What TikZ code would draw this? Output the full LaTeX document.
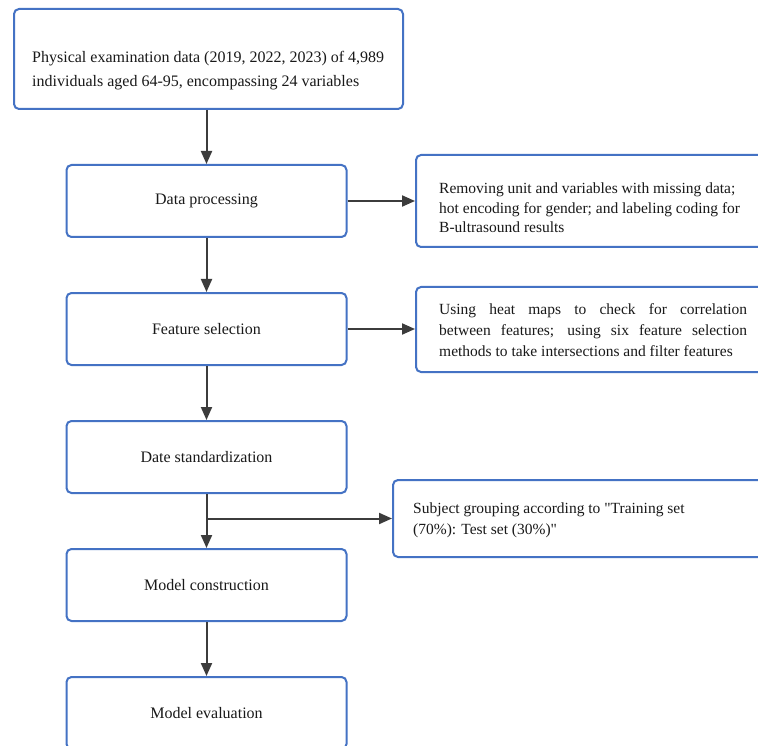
\documentclass[tikz,border=0pt]{standalone}
\usepackage{fontspec}
\setmainfont{Liberation Serif}
\usetikzlibrary{arrows.meta,calc}
\definecolor{boxblue}{RGB}{68,114,196}
\definecolor{arrowgray}{RGB}{60,60,60}
\definecolor{txt}{RGB}{25,25,25}
\begin{document}
\begin{tikzpicture}[x=1pt,y=-1pt,
  box/.style={draw=boxblue,line width=2pt,rounded corners=5pt,fill=white,inner sep=0pt},
  lbox/.style={box,minimum width=280pt,minimum height=72pt,text=txt,font=\fontsize{16}{20}\selectfont},
  rtext/.style={inner sep=0pt,anchor=base west,text=txt,font=\fontsize{15.5}{20}\selectfont,align=left},
  flow/.style={draw=arrowgray,line width=2pt,-{Triangle[length=13pt,width=11pt]}}]
\useasboundingbox (0,0) rectangle (758,746);
\clip (0,0) rectangle (758,746);
\fill[white] (0,0) rectangle (758,746);

% top box
\node[box,minimum width=389pt,minimum height=100pt] (src) at (208.5,59) {};
\node[rtext,font=\fontsize{16}{24}\selectfont] (srctext) at (32,87)
  {Physical examination data (2019, 2022, 2023) of 4,989\\individuals aged 64-95, encompassing 24 variables};

% left column
\node[lbox] (dp) at (206.5,201) {Data processing};
\node[lbox] (fs) at (206.5,329) {Feature selection};
\node[lbox] (ds) at (206.5,457) {Date standardization};
\node[lbox] (mc) at (206.5,585) {Model construction};
\node[lbox] (me) at (206.5,713) {Model evaluation};

% right column
\node[box,minimum width=360pt,minimum height=92pt,anchor=west] (pr) at (415,201) {};
\node[rtext,font=\fontsize{15.5}{19.5}\selectfont] (prtext) at (439,233)
  {Removing unit and variables with missing data;\\hot encoding for gender; and labeling coding for\\B-ultrasound results};

\node[box,minimum width=360pt,minimum height=85pt,anchor=west] (fsr) at (415,329.5) {};
\node[rtext,anchor=base west,text width=308pt,align=justify,font=\fontsize{15.5}{21}\selectfont] (fsrtext) at (439,314)
  {\hyphenpenalty=10000 Using heat maps to check for correlation\linebreak between features; using six feature selection\linebreak methods to take intersections and filter features};

\node[box,minimum width=383pt,minimum height=77pt,anchor=west] (grp) at (392,518.5) {};
\node[rtext,font=\fontsize{15.5}{21}\selectfont] (grptext) at (413,534)
  {Subject grouping according to \textquotedbl Training set\\(70\%): Test set (30\%)\textquotedbl};

% connectors
\draw[flow] (src.south -| dp.north) -- (dp.north);
\draw[flow] (dp) -- (fs);
\draw[flow] (fs) -- (ds);
\draw[flow] (ds) -- (mc);
\draw[flow] (mc) -- (me);
\coordinate (br) at (ds.south |- grp.west);
\draw[flow] (br) -- (grp.west);
\draw[flow] (dp.east) -- (dp.east -| pr.west);
\draw[flow] (fs.east) -- (fs.east -| fsr.west);
\end{tikzpicture}
\end{document}
